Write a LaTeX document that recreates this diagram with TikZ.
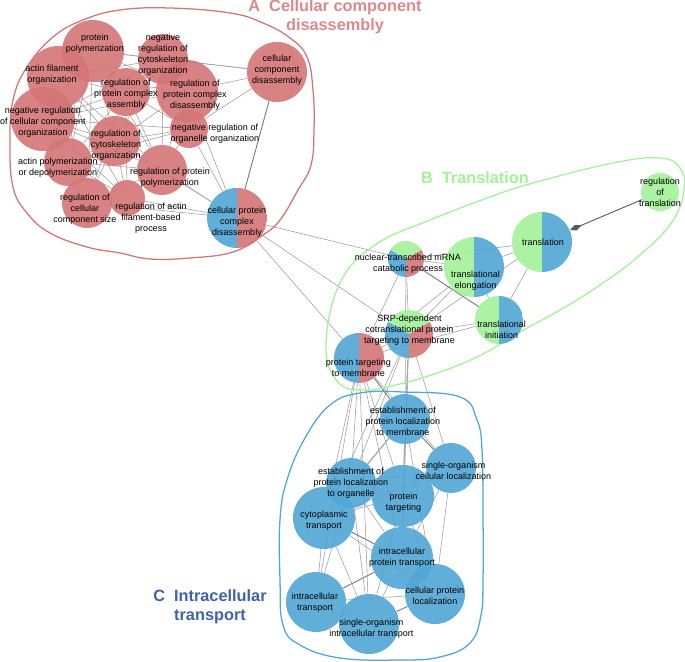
\documentclass[tikz,border=0pt]{standalone}
\usepackage{fontspec}
\setmainfont{Liberation Sans}
\usepackage{xcolor}
\usetikzlibrary{arrows.meta, backgrounds}

\definecolor{gored}{RGB}{212,116,118}
\definecolor{goblue}{RGB}{80,166,213}
\definecolor{gogreen}{RGB}{162,242,152}
\definecolor{cdark}{RGB}{62,98,172}

\begin{document}
\begin{tikzpicture}[
    x=0.025cm, y=-0.025cm,
    term/.style={circle, inner sep=0pt, draw=none, fill opacity=0.9},
    rad/.style={minimum size=#1*0.05cm},
    halves/.style 2 args={path picture={
        \fill[#1, fill opacity=0.9] (path picture bounding box.south west) rectangle (path picture bounding box.north);
        \fill[#2, fill opacity=0.9] (path picture bounding box.south) rectangle (path picture bounding box.north east);}},
    thirds/.style n args={3}{path picture={
        \fill[#1, fill opacity=0.9] (path picture bounding box.center) -- +(30:1cm) -- +(90:1cm) -- +(150:1cm) -- cycle;
        \fill[#2, fill opacity=0.9] (path picture bounding box.center) -- +(150:1cm) -- +(210:1cm) -- +(270:1cm) -- cycle;
        \fill[#3, fill opacity=0.9] (path picture bounding box.center) -- +(270:1cm) -- +(330:1cm) -- +(30:1cm) -- cycle;}},
    txt/.style={align=center, inner sep=0pt, text=black, font=\fontsize{6.4}{7.8}\selectfont},
    title/.style={align=center, inner sep=0pt, font=\fontsize{11.6}{13.8}\selectfont\bfseries},
    link/.style={draw=black!38, line width=0.4pt},
    wlink/.style={draw=black!52, line width=0.65pt},
    hull/.style={line width=0.9pt}
]
    \useasboundingbox (0,0) rectangle (685,662);

    % Cluster A: cellular component disassembly
    \node[term, rad=31, fill=gored] (ppol) at (93,51) {};
    \node[term, rad=25, fill=gored] (nrcyt) at (163,59) {};
    \node[term, rad=31, fill=gored] (actorg) at (58,77) {};
    \node[term, rad=24, fill=gored] (rpca) at (126,92) {};
    \node[term, rad=31, fill=gored] (rpcd) at (187,91) {};
    \node[term, rad=30, fill=gored] (ccd) at (277,72) {};
    \node[term, rad=32, fill=gored] (nrcco) at (43,119) {};
    \node[term, rad=19, fill=gored] (nroo) at (189,129) {};
    \node[term, rad=25, fill=gored] (rco) at (115,141) {};
    \node[term, rad=24, fill=gored] (apd) at (68,162) {};
    \node[term, rad=25, fill=gored] (rpp) at (162,170) {};
    \node[term, rad=25, fill=gored] (rccs) at (87,203) {};
    \node[term, rad=18, fill=gored] (rafp) at (127,198) {};
    \node[term, rad=30, halves={goblue}{gored}] (cpcd) at (237,218) {};

    % Cluster B: translation
    \node[term, rad=19, fill=gogreen] (regtr) at (660,192) {};
    \node[term, rad=30, halves={gogreen}{goblue}] (transl) at (542,242) {};
    \node[term, rad=30, halves={gogreen}{goblue}] (elong) at (474,267) {};
    \node[term, rad=18, thirds={gogreen}{goblue}{gored}] (nmrna) at (406,259) {};
    \node[term, rad=24, halves={gogreen}{goblue}] (init) at (499,320) {};
    \node[term, rad=24, thirds={gogreen}{goblue}{gored}] (srp) at (409,334) {};
    \node[term, rad=25, halves={goblue}{gored}] (ptm) at (359,358) {};

    % Cluster C: intracellular transport
    \node[term, rad=25, fill=goblue] (epm) at (405,419) {};
    \node[term, rad=25, fill=goblue] (soc) at (451,468) {};
    \node[term, rad=25, fill=goblue] (epo) at (351,483) {};
    \node[term, rad=31, fill=goblue] (ptg) at (403,496) {};
    \node[term, rad=31, fill=goblue] (cyt) at (324,518) {};
    \node[term, rad=31, fill=goblue] (ipt) at (402,558) {};
    \node[term, rad=30, fill=goblue] (cpl) at (435,594) {};
    \node[term, rad=30, fill=goblue] (itr) at (316,602) {};
    \node[term, rad=30, fill=goblue] (soit) at (369,624) {};

    % Edges and cluster hulls
    \begin{scope}[on background layer]
    \foreach \a/\b in {ppol/actorg, ppol/nrcyt, ppol/rpca, ppol/rpcd, ppol/nrcco, ppol/rco, ppol/apd, ppol/rpp, ppol/rccs, ppol/ccd,
        nrcyt/rpca, nrcyt/rpcd, nrcyt/ccd, nrcyt/rco, nrcyt/nrcco, nrcyt/nroo, nrcyt/rpp, nrcyt/actorg,
        actorg/rpca, actorg/nrcco, actorg/rco, actorg/apd, actorg/rccs, actorg/rpp, actorg/rafp, actorg/rpcd,
        rpca/rpcd, rpca/rco, rpca/nrcco, rpca/rpp, rpca/apd, rpca/rccs, rpca/nroo, rpca/rafp,
        rpcd/ccd, rpcd/nroo, rpcd/rco, rpcd/rpp, rpcd/cpcd, rpcd/nrcco, ccd/nroo,
        nrcco/rco, nrcco/apd, nrcco/rccs, nrcco/rpp, nrcco/nroo, nrcco/rafp,
        nroo/cpcd, nroo/rco, nroo/rpp, nroo/apd,
        rco/apd, rco/rpp, rco/rccs, rco/rafp, rco/cpcd,
        apd/rpp, apd/rccs, apd/rafp, rpp/rccs, rpp/rafp, rpp/cpcd,
        rccs/rafp, rccs/cpcd, rafp/cpcd,
        cpcd/nmrna, cpcd/srp, cpcd/ptm,
        transl/elong, transl/nmrna, transl/init, transl/srp,
        elong/nmrna, elong/srp, elong/init, elong/ptm,
        nmrna/srp, nmrna/ptm, srp/init, srp/ptm, init/ptm,
        ptm/epo, ptm/ptg, ptm/ipt, ptm/cyt, ptm/itr, ptm/soit, ptm/soc,
        srp/epm, srp/epo, srp/ptg, srp/soc, srp/ipt, srp/cyt, nmrna/epm,
        epm/epo, epm/ptg, epm/ipt, epm/cyt, epm/cpl,
        epo/ptg, epo/cyt, epo/ipt, epo/itr, epo/soit, epo/soc,
        ptg/soc, ptg/ipt, ptg/cyt, ptg/cpl, ptg/soit,
        cyt/itr, cyt/soit, cyt/cpl, ipt/cpl, ipt/soit,
        itr/cpl, soc/cpl, soc/ipt, soc/cyt}
        \draw[link] (\a) -- (\b);
    \foreach \a/\b in {ccd/cpcd, nmrna/init, ptm/epm, epm/soc, cyt/ipt, ipt/itr, itr/soit, soit/cpl}
        \draw[wlink] (\a) -- (\b);
    \draw[wlink, draw=black!65, -{Diamond[length=9pt, width=4pt]}] (regtr) -- (transl);

    \draw[hull, draw=gored] plot[smooth cycle, tension=0.7] coordinates {
        (27,67) (53,37) (83,20) (120,10) (170,8) (230,13) (263,23) (290,38) (307,57)
        (313,90) (314,130) (311,165) (298,190) (280,220) (263,235) (233,252) (190,258)
        (150,259) (120,253) (87,247) (50,233) (27,213) (13,187) (10,143) (13,100)};
    \draw[hull, draw=gogreen] plot[smooth cycle, tension=0.7] coordinates {
        (326,345) (340,283) (375,245) (430,220) (490,197) (533,183) (613,163) (660,158)
        (680,168) (684,190) (672,222) (640,255) (600,285) (560,310) (520,332) (481,355)
        (440,372) (400,384) (365,390) (338,382)};
    \draw[hull, draw=goblue] plot[smooth cycle, tension=0.7] coordinates {
        (403,392) (460,397) (477,420) (482,450) (483,513) (483,580) (481,615) (470,643)
        (440,657) (400,660) (340,658) (300,645) (283,625) (280,580) (280,520) (287,480)
        (305,438) (330,405) (360,393)};
    \end{scope}

    % Labels
    \node[txt] (ppol-l) at (95,44) {protein\\polymerization};
    \node[txt] (nrcyt-l) at (163,55) {negative\\regulation of\\cytoskeleton\\organization};
    \node[txt] (actorg-l) at (52,74.5) {actin filament\\organization};
    \node[txt] (rpca-l) at (126,94) {regulation of\\protein complex\\assembly};
    \node[txt] (rpcd-l) at (195,95.5) {regulation of\\protein complex\\disassembly};
    \node[txt] (ccd-l) at (277,70.5) {cellular\\component\\disassembly};
    \node[txt] (nrcco-l) at (43,122) {negative regulation\\of cellular component\\organization};
    \node[txt] (nroo-l) at (215,134) {negative regulation of\\organelle organization};
    \node[txt] (rco-l) at (116,145) {regulation of\\cytoskeleton\\organization};
    \node[txt] (apd-l) at (58,168) {actin polymerization\\or depolymerization};
    \node[txt] (rpp-l) at (170,177.5) {regulation of protein\\polymerization};
    \node[txt] (rccs-l) at (85,209.5) {regulation of\\cellular\\component size};
    \node[txt] (rafp-l) at (151,218) {regulation of actin\\filament-based\\process};
    \node[txt] (cpcd-l) at (237,222) {cellular protein\\complex\\disassembly};

    \node[txt] (regtr-l) at (660,192) {regulation\\of\\translation};
    \node[txt] (transl-l) at (543,242) {translation};
    \node[txt] (nmrna-l) at (408,264) {nuclear-transcribed mRNA\\catabolic process};
    \node[txt] (elong-l) at (475.5,281) {translational\\elongation};
    \node[txt] (init-l) at (501.7,329.5) {translational\\initiation};
    \node[txt] (srp-l) at (409.5,330.5) {SRP-dependent\\cotranslational protein\\targeting to membrane};
    \node[txt] (ptm-l) at (358.4,368) {protein targeting\\to membrane};

    \node[txt] (epm-l) at (403,421) {establishment of\\protein localization\\to membrane};
    \node[txt] (soc-l) at (453.5,471) {single-organism\\cellular localization};
    \node[txt] (epo-l) at (351,483.5) {establishment of\\protein localization\\to organelle};
    \node[txt] (ptg-l) at (403.5,502.5) {protein\\targeting};
    \node[txt] (cyt-l) at (324,520.5) {cytoplasmic\\transport};
    \node[txt] (ipt-l) at (402,558) {intracellular\\protein transport};
    \node[txt] (cpl-l) at (435,595.5) {cellular protein\\localization};
    \node[txt] (itr-l) at (315,602.7) {intracellular\\transport};
    \node[txt] (soit-l) at (371.5,629) {single-organism\\intracellular transport};

    % Cluster titles
    \node[title, text=gored!85] (titleA) at (335,17) {A\hspace{0.55em}Cellular component\\disassembly};
    \node[title, text=gogreen] (titleB) at (475,178) {B\hspace{0.55em}Translation};
    \node[title, text=cdark] (titleC) at (210,607) {C\hspace{0.55em}Intracellular\\transport};
\end{tikzpicture}
\end{document}
